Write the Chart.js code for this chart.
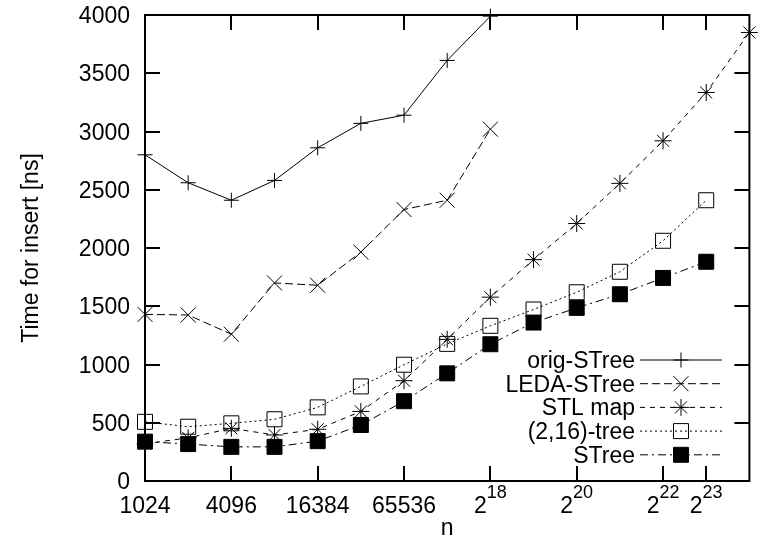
<!DOCTYPE html>
<html>
<head>
<meta charset="utf-8">
<script src="https://cdn.jsdelivr.net/npm/chart.js@4.4.0/dist/chart.umd.min.js"></script>
<style>
html,body{margin:0;padding:0;background:#fff;}
#wrap{width:761px;height:542px;position:relative;}
</style>
</head>
<body>
<div id="wrap"><canvas id="c"></canvas></div>
<script>
// ---- data ----
const nValues = [1024, 2048, 4096, 8192, 16384, 32768, 65536, 131072, 262144,
                 524288, 1048576, 2097152, 4194304, 8388608, 16777216];
const seriesNames = ['orig-STree', 'LEDA-STree', 'STL map', '(2,16)-tree', 'STree'];
const origSTree = [2800, 2560, 2410, 2580, 2860, 3070, 3140, 3610, 3990];
const ledaSTree = [1430, 1425, 1260, 1700, 1680, 1965, 2330, 2410, 3020];
const stlMap    = [320, 370, 452, 395, 444, 597, 861, 1216, 1578, 1900, 2210, 2555, 2920, 3335, 3850];
const tree216   = [508, 466, 495, 530, 632, 812, 998, 1177, 1332, 1472, 1620, 1796, 2062, 2410];
const sTree     = [338, 317, 293, 293, 342, 481, 685, 924, 1174, 1360, 1486, 1603, 1743, 1882];
const xTickValues = [1024, 4096, 16384, 65536, 262144, 1048576, 4194304, 8388608];
const xTickLabels = ['1024', '4096', '16384', '65536', '2^18', '2^20', '2^22', '2^23'];
const yTickValues = [0, 500, 1000, 1500, 2000, 2500, 3000, 3500, 4000];
const xTitle = 'n';
const yTitle = 'Time for insert [ns]';

// ---- styles ----
const FONT = '"Liberation Sans", Arial, Helvetica, sans-serif';
const seriesValues = [origSTree, ledaSTree, stlMap, tree216, sTree];
const seriesStyles = [
  {pointStyle: 'cross',    radius: 7.5,  dash: [],          filled: false},
  {pointStyle: 'crossRot', radius: 10.6, dash: [8, 4],      filled: false},
  {pointStyle: 'star',     radius: 8.5,  dash: [5, 5],      filled: false},
  {pointStyle: 'rect',     radius: 10.6, dash: [2, 3],      filled: false},
  {pointStyle: 'rect',     radius: 10.6, dash: [8, 4, 2, 4], filled: true}
];

const datasets = seriesValues.map((vals, i) => {
  const s = seriesStyles[i];
  return {
    label: seriesNames[i],
    data: vals.map((v, k) => ({x: nValues[k], y: v})),
    borderColor: '#000',
    borderWidth: 1,
    borderDash: s.dash,
    pointStyle: s.pointStyle,
    pointRadius: s.radius,
    pointHoverRadius: s.radius,
    pointBorderColor: '#000',
    pointBackgroundColor: s.filled ? '#000' : 'rgba(0,0,0,0)',
    pointBorderWidth: 1,
    fill: false,
    tension: 0,
    clip: false
  };
});

function drawMarker(ctx, style, x, y, r, filled) {
  ctx.save();
  ctx.setLineDash([]);
  ctx.lineWidth = 1;
  ctx.strokeStyle = '#000';
  ctx.fillStyle = '#000';
  ctx.beginPath();
  if (style === 'cross' || style === 'star') {
    ctx.moveTo(x - r, y); ctx.lineTo(x + r, y);
    ctx.moveTo(x, y - r); ctx.lineTo(x, y + r);
  }
  if (style === 'crossRot' || style === 'star') {
    const o = (style === 'star' ? r : r) * Math.SQRT1_2;
    ctx.moveTo(x - o, y - o); ctx.lineTo(x + o, y + o);
    ctx.moveTo(x - o, y + o); ctx.lineTo(x + o, y - o);
  }
  if (style === 'rect') {
    const h = r * Math.SQRT1_2;
    ctx.rect(x - h, y - h, 2 * h, 2 * h);
    if (filled) ctx.fill();
  }
  ctx.stroke();
  ctx.restore();
}

const framePlugin = {
  id: 'frame',
  beforeDatasetsDraw(chart) {
    const {ctx, chartArea: a, scales} = chart;
    ctx.save();
    ctx.strokeStyle = '#000';
    ctx.lineWidth = 2;
    ctx.setLineDash([]);
    ctx.strokeRect(a.left, a.top, a.right - a.left, a.bottom - a.top);
    const TL = 15;
    ctx.beginPath();
    xTickValues.forEach(v => {
      const x = Math.round(scales.x.getPixelForValue(v));
      ctx.moveTo(x, a.bottom); ctx.lineTo(x, a.bottom - TL);
      ctx.moveTo(x, a.top); ctx.lineTo(x, a.top + TL);
    });
    yTickValues.forEach(v => {
      const y = Math.round(scales.y.getPixelForValue(v));
      ctx.moveTo(a.left, y); ctx.lineTo(a.left + TL, y);
      ctx.moveTo(a.right, y); ctx.lineTo(a.right - TL, y);
    });
    ctx.stroke();
    ctx.restore();
  },
  afterDraw(chart) {
    const {ctx, chartArea: a, scales} = chart;
    ctx.save();
    ctx.fillStyle = '#000';
    // y tick labels
    ctx.font = '23px ' + FONT;
    ctx.textAlign = 'right';
    ctx.textBaseline = 'alphabetic';
    yTickValues.forEach(v => {
      const y = scales.y.getPixelForValue(v);
      ctx.fillText(String(v), a.left - 15, y + 8);
    });
    // x tick labels
    xTickLabels.forEach((lab, i) => {
      const x = scales.x.getPixelForValue(xTickValues[i]);
      const base = a.bottom + 32;
      if (lab.indexOf('^') >= 0) {
        const [b, e] = lab.split('^');
        ctx.font = '23px ' + FONT;
        const wb = ctx.measureText(b).width;
        ctx.font = '18px ' + FONT;
        const we = ctx.measureText(e).width;
        const x0 = x - (wb + we) / 2;
        ctx.textAlign = 'left';
        ctx.font = '23px ' + FONT;
        ctx.fillText(b, x0, base);
        ctx.font = '18px ' + FONT;
        ctx.fillText(e, x0 + wb, base - 15);
      } else {
        ctx.font = '23px ' + FONT;
        ctx.textAlign = 'center';
        ctx.fillText(lab, x, base);
      }
    });
    // axis titles
    ctx.font = '23px ' + FONT;
    ctx.textAlign = 'center';
    ctx.fillText(xTitle, (a.left + a.right) / 2, 534.5);
    ctx.save();
    ctx.translate(38, (a.top + a.bottom) / 2);
    ctx.rotate(-Math.PI / 2);
    ctx.fillText(yTitle, 0, 0);
    ctx.restore();
    // legend
    const lx = 635, sx0 = 640, sx1 = 722, mx = 681;
    seriesNames.forEach((name, i) => {
      const y = 360 + i * 23.7;
      const s = seriesStyles[i];
      ctx.font = '23px ' + FONT;
      ctx.textAlign = 'right';
      ctx.fillStyle = '#000';
      ctx.fillText(name, lx, y + 8);
      ctx.save();
      ctx.strokeStyle = '#000';
      ctx.lineWidth = 1;
      ctx.setLineDash(s.dash);
      ctx.beginPath();
      ctx.moveTo(sx0, y); ctx.lineTo(sx1, y);
      ctx.stroke();
      ctx.restore();
      drawMarker(ctx, s.pointStyle, mx, y, s.radius, s.filled);
    });
    ctx.restore();
  }
};

new Chart(document.getElementById('c'), {
  type: 'line',
  data: {datasets},
  options: {
    responsive: true,
    maintainAspectRatio: false,
    devicePixelRatio: 1,
    animation: false,
    layout: {padding: {left: 145, top: 15, right: 11, bottom: 61}},
    plugins: {legend: {display: false}, tooltip: {enabled: false}, title: {display: false}},
    scales: {
      x: {type: 'logarithmic', min: 1024, max: 16777216, display: false},
      y: {type: 'linear', min: 0, max: 4000, display: false}
    }
  },
  plugins: [framePlugin]
});
</script>
</body>
</html>
